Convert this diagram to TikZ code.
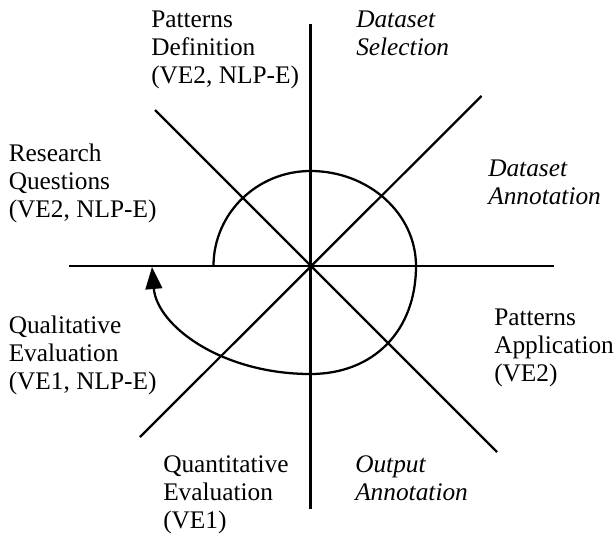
\documentclass[tikz,border=0pt]{standalone}
\usepackage{fontspec}
\setmainfont{Liberation Serif}
\usetikzlibrary{arrows.meta}
\begin{document}
\begin{tikzpicture}[x=0.75pt,y=-0.75pt,
  axis/.style={line width=1.7pt,line cap=butt},
  cycle/.style={line width=1.7pt},
  phase/.style={anchor=base west,inner sep=0pt,align=left,
    font=\fontsize{19}{21}\selectfont},
  pilot/.style={phase,font=\fontsize{19}{21}\selectfont\itshape}]
\useasboundingbox (0,0) rectangle (614,533);

% centre of the wheel and the ends of its eight spokes
\coordinate (c) at (310.5,266);
\coordinate (n) at (310.5,23.5);
\coordinate (s) at (310.5,509);
\coordinate (w) at (69,266);
\coordinate (e) at (554,266);
\coordinate (nw) at (155,110);
\coordinate (se) at (497,452);
\coordinate (ne) at (481.5,96);
\coordinate (sw) at (140,437);

\draw[axis] (n) -- (s);
\draw[axis] (w) -- (e);
\draw[axis] (nw) -- (se);
\draw[axis] (ne) -- (sw);

% spiral running clockwise through the phases
\coordinate (start) at (213.5,266);
\coordinate (top) at (310.5,171);
\coordinate (right) at (416,266);
\coordinate (bottom) at (310.5,374);
\coordinate (finish) at (152,267);
\draw[cycle,-{Triangle[length=16.5pt,width=12.5pt]}]
  (start) .. controls (213.5,213.5) and (257,171) .. (top)
          .. controls (368.5,171) and (416,213.5) .. (right)
          .. controls (416,330.8) and (373.6,374) .. (bottom)
          .. controls (222,374) and (157,326) .. (finish);

% phase labels (anchored at the baseline of their last line)
\node[phase] (pd) at (151,83.5) {Patterns\\Definition\\(VE2, NLP-E)};
\node[pilot] (ds) at (356,55.5) {Dataset\\Selection};
\node[phase] (rq) at (8.5,217) {Research\\Questions\\(VE2, NLP-E)};
\node[pilot] (da) at (488,204) {Dataset\\Annotation};
\node[phase] (ql) at (8.5,389) {Qualitative\\Evaluation\\(VE1, NLP-E)};
\node[phase] (pa) at (494,381) {Patterns\\Application\\(VE2)};
\node[phase] (qn) at (163,528) {Quantitative\\Evaluation\\(VE1)};
\node[pilot] (oa) at (355,500) {Output\\Annotation};
\end{tikzpicture}
\end{document}
